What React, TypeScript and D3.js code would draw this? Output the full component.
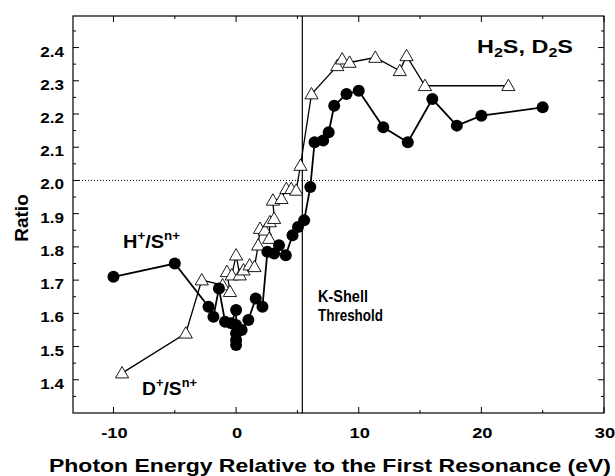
import React from "react";
import * as d3 from "d3";

const hX = [-10, -5, -2.25, -1.85, -1.4, -0.9, -0.4, 0, 0, 0, 0, 0, 0.45, 1.0, 1.6, 2.15, 2.55, 3.1, 3.5, 4.05, 4.6, 5.05, 5.55, 6.05, 6.4, 7.1, 7.55, 8.0, 9.0, 10.0, 12.0, 14.0, 16.0, 18.0, 20.0, 25.0];
const hY = [1.71, 1.75, 1.62, 1.59, 1.675, 1.575, 1.57, 1.61, 1.565, 1.54, 1.52, 1.505, 1.55, 1.58, 1.645, 1.62, 1.785, 1.78, 1.805, 1.775, 1.835, 1.86, 1.88, 1.98, 2.115, 2.12, 2.145, 2.225, 2.26, 2.27, 2.16, 2.115, 2.245, 2.165, 2.195, 2.22];

const dX = [-9.3, -4.1, -2.8, -1.1, -0.5, -0.75, -0.35, 0, 0.3, 0.6, 1.1, 1.5, 1.8, 1.95, 2.35, 2.7, 2.75, 3.1, 3.0, 3.7, 4.1, 4.5, 4.9, 5.25, 6.15, 8.25, 8.65, 9.25, 11.35, 13.35, 13.9, 15.4, 22.2];
const dY = [1.42, 1.54, 1.70, 1.685, 1.665, 1.725, 1.715, 1.775, 1.715, 1.73, 1.745, 1.74, 1.805, 1.855, 1.85, 1.825, 1.875, 1.885, 1.94, 1.945, 1.975, 1.975, 1.97, 2.045, 2.26, 2.345, 2.365, 2.355, 2.37, 2.33, 2.375, 2.285, 2.285];

const xMajor = [-10, 0, 10, 20, 30];
const xMinor = [-5, 5, 15, 25];
const yMajor = [1.4, 1.5, 1.6, 1.7, 1.8, 1.9, 2.0, 2.1, 2.2, 2.3, 2.4];
const yMinor = [1.35, 1.45, 1.55, 1.65, 1.75, 1.85, 1.95, 2.05, 2.15, 2.25, 2.35, 2.45];
const thresholdX = 5.4;
const refY = 2.0;

const W = 615, H = 476;
const L = 73, R = 604, T = 16, B = 413;
const FONT = "'Liberation Sans', Arial, Helvetica, sans-serif";
const SX = 1.18; // horizontal stretch of the lettering

export default function App() {
  const x = d3.scaleLinear().domain([-13.3, 30]).range([L, R]);
  const y = d3.scaleLinear().domain([1.30, 2.495]).range([B, T]);
  const hPts = hX.map((v, i) => [v, hY[i]] as [number, number]);
  const dPts = dX.map((v, i) => [v, dY[i]] as [number, number]);
  const line = d3.line<[number, number]>().x(d => x(d[0])).y(d => y(d[1]));
  const tri = d3.symbol().type(d3.symbolTriangle).size(75)();
  const fmt = d3.format(".1f");

  return (
    <div style={{ position: "absolute", left: 0, top: 0 }}>
      <svg width={W} height={H} style={{ display: "block", background: "#fff" }} fontFamily={FONT}>
        <rect x={L} y={T} width={R - L} height={B - T} fill="none" stroke="#000" strokeWidth={1.2} />
        {xMajor.map(v => (
          <g key={"xm" + v}>
            <line x1={x(v)} x2={x(v)} y1={B} y2={B - 6} stroke="#000" />
            <line x1={x(v)} x2={x(v)} y1={T} y2={T + 6} stroke="#000" />
          </g>
        ))}
        {xMinor.map(v => (
          <g key={"xn" + v}>
            <line x1={x(v)} x2={x(v)} y1={B} y2={B - 3} stroke="#000" />
            <line x1={x(v)} x2={x(v)} y1={T} y2={T + 3} stroke="#000" />
          </g>
        ))}
        {yMajor.map(v => (
          <g key={"ym" + v}>
            <line x1={L} x2={L + 6} y1={y(v)} y2={y(v)} stroke="#000" />
            <line x1={R} x2={R - 6} y1={y(v)} y2={y(v)} stroke="#000" />
          </g>
        ))}
        {yMinor.map(v => (
          <g key={"yn" + v}>
            <line x1={L} x2={L + 3} y1={y(v)} y2={y(v)} stroke="#000" />
            <line x1={R} x2={R - 3} y1={y(v)} y2={y(v)} stroke="#000" />
          </g>
        ))}
        <line x1={L} x2={R} y1={y(refY)} y2={y(refY)} stroke="#000" strokeWidth={1} strokeDasharray="1,2" />
        <line x1={x(thresholdX)} x2={x(thresholdX)} y1={T} y2={B} stroke="#000" strokeWidth={1.2} />

        <path d={line(dPts) || ""} fill="none" stroke="#000" strokeWidth={1.3} />
        {dPts.map((p, i) => (
          <path key={"t" + i} d={tri || ""} transform={`translate(${x(p[0])},${y(p[1]) + 1})`} fill="#fff" stroke="#000" strokeWidth={0.9} />
        ))}
        <path d={line(hPts) || ""} fill="none" stroke="#000" strokeWidth={1.8} />
        {hPts.map((p, i) => (
          <circle key={"c" + i} cx={x(p[0])} cy={y(p[1])} r={6} fill="#000" />
        ))}

        {xMajor.map(v => (
          <text key={"xl" + v} transform={`translate(${x(v) + 1},438) scale(${SX},1)`} textAnchor="middle" fontSize={15.5} fontWeight="bold">{v}</text>
        ))}
        {yMajor.map(v => (
          <text key={"yl" + v} transform={`translate(64,${y(v) + 9}) scale(${SX},1)`} textAnchor="end" fontSize={14.5} fontWeight="bold">{fmt(v)}</text>
        ))}
        <text x={330} y={472} textAnchor="middle" fontSize={18.5} fontWeight="bold" textLength={562} lengthAdjust="spacingAndGlyphs">Photon Energy Relative to the First Resonance (eV)</text>
        <text transform="translate(28,218) rotate(-90)" textAnchor="middle" fontSize={19} fontWeight="bold">Ratio</text>

        <text x={477} y={53} fontSize={17.5} fontWeight="bold" textLength={96} lengthAdjust="spacingAndGlyphs">H<tspan fontSize={12} dy={4}>2</tspan><tspan dy={-4}>S, D</tspan><tspan fontSize={12} dy={4}>2</tspan><tspan dy={-4}>S</tspan></text>
        <text x={123} y={248} fontSize={18} fontWeight="bold" textLength={57} lengthAdjust="spacingAndGlyphs">H<tspan fontSize={12} dy={-8}>+</tspan><tspan dy={8}>/S</tspan><tspan fontSize={12} dy={-8}>n+</tspan></text>
        <text x={142} y={395} fontSize={18} fontWeight="bold" textLength={55} lengthAdjust="spacingAndGlyphs">D<tspan fontSize={12} dy={-8}>+</tspan><tspan dy={8}>/S</tspan><tspan fontSize={12} dy={-8}>n+</tspan></text>
        <text x={318} y={302} fontSize={16} fontWeight="bold" textLength={50} lengthAdjust="spacingAndGlyphs">K-Shell</text>
        <text x={318} y={321} fontSize={16} fontWeight="bold" textLength={65} lengthAdjust="spacingAndGlyphs">Threshold</text>
      </svg>
    </div>
  );
}
